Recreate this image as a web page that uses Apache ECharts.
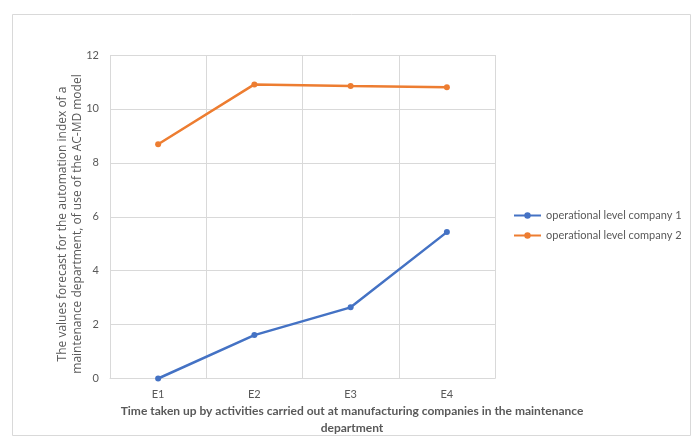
<!DOCTYPE html>
<html><head><meta charset="utf-8">
<script src="https://cdn.jsdelivr.net/npm/echarts@6/dist/echarts.min.js"></script>
<style>html,body{margin:0;padding:0;background:#fff}#c{width:693px;height:438px}</style>
</head><body><div id="c"></div>
<script>
const categories = ['E1', 'E2', 'E3', 'E4'];
const company1 = [0, 1.61, 2.64, 5.43];
const company2 = [8.69, 10.91, 10.85, 10.80];
const seriesNames = ['operational level company 1', 'operational level company 2'];
const yTitle = 'The values forecast for the automation index of a\nmaintenance department, of use of the AC-MD model';
const xTitle = 'Time taken up by activities carried out at manufacturing companies in the maintenance\ndepartment';

const FONT = 'Lato';
const chart = echarts.init(document.getElementById('c'));
chart.setOption({
  backgroundColor: '#fff',
  animation: false,
  textStyle: { fontFamily: FONT },
  graphic: [
    { type: 'rect', shape: { x: 12.5, y: 14.5, width: 678, height: 421 }, style: { fill: 'none', stroke: '#D9D9D9', lineWidth: 1 }, silent: true },
    { type: 'text', x: 352, y: 403, style: { text: xTitle, textAlign: 'center', fill: '#595959', font: 'bold 12px ' + FONT, lineHeight: 16.5 } },
    { type: 'text', x: 70, y: 224, rotation: Math.PI / 2, style: { text: yTitle, textAlign: 'center', textVerticalAlign: 'middle', fill: '#595959', font: '12px "Open Sans"', lineHeight: 15 } }
  ],
  grid: { left: 110, right: 198, top: 55, bottom: 59.5, containLabel: false },
  legend: {
    orient: 'vertical', left: 508, top: 205, itemWidth: 27, itemHeight: 8, itemGap: 9,
    textStyle: { color: '#595959', fontSize: 11, fontFamily: FONT },
    data: seriesNames
  },
  xAxis: {
    type: 'category', data: categories, boundaryGap: true,
    axisLine: { lineStyle: { color: '#D9D9D9' } },
    axisTick: { show: false },
    axisLabel: { color: '#595959', fontSize: 11, margin: 10 },
    splitLine: { show: true, lineStyle: { color: '#D9D9D9' } }
  },
  yAxis: {
    type: 'value', min: 0, max: 12, interval: 2,
    axisLine: { show: false }, axisTick: { show: false },
    axisLabel: { color: '#595959', fontSize: 11, margin: 11 },
    splitLine: { lineStyle: { color: '#D9D9D9' } }
  },
  series: [
    { name: seriesNames[0], type: 'line', data: company1, color: '#4472C4', symbol: 'circle', symbolSize: 6, lineStyle: { width: 2.5 } },
    { name: seriesNames[1], type: 'line', data: company2, color: '#ED7D31', symbol: 'circle', symbolSize: 6, lineStyle: { width: 2.5 } }
  ]
});
</script></body></html>
